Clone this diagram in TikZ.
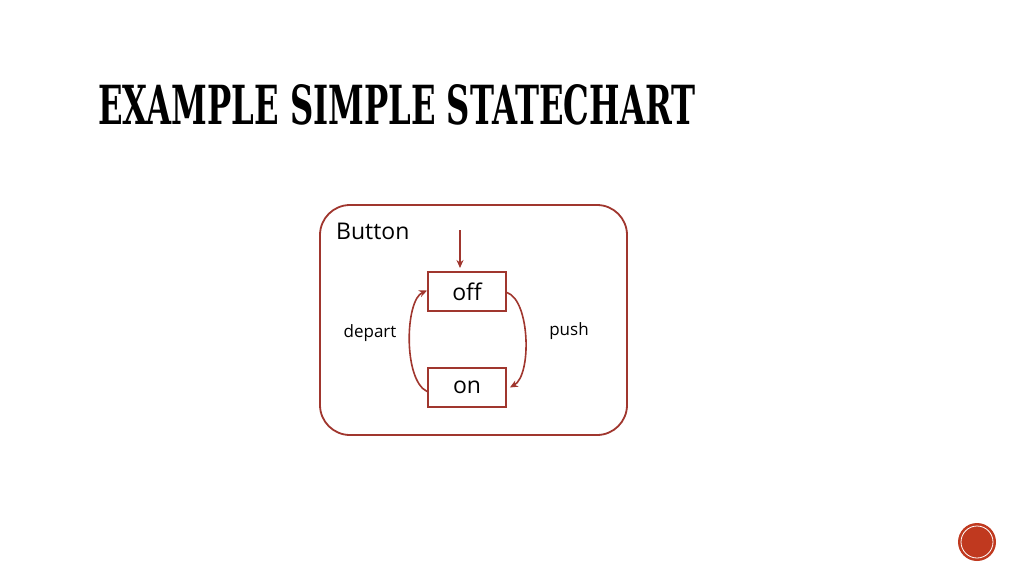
\documentclass[tikz,border=0pt]{standalone}
\usepackage{fontspec}
\setmainfont{Open Sans}
\newfontfamily\titlefont{DejaVu Serif Condensed}
\usetikzlibrary{arrows.meta}
\definecolor{dred}{HTML}{A0362E}
\definecolor{badge}{HTML}{C0391F}
\tikzset{
  statebox/.style={draw=dred, line width=1.8pt, minimum width=78pt, minimum height=39pt, inner sep=0pt, font=\fontsize{23}{26}\selectfont},
  trans/.style={draw=dred, line width=1.6pt, -{Stealth[length=8pt,width=7pt]}},
  lbl/.style={font=\fontsize{17}{20}\selectfont, inner sep=0pt},
}
\begin{document}
\begin{tikzpicture}[x=1pt,y=-1pt]
\useasboundingbox[fill=white] (0,0) rectangle (1024,576);
% title
\node[anchor=west, inner sep=0pt] (title) at (98,105)
  {\resizebox{597pt}{40pt}{\titlefont\bfseries EXAMPLE SIMPLE STATECHART}};
% container
\draw[dred, line width=1.8pt, rounded corners=30pt] (320,205) rectangle (627,435);
\node[anchor=west, font=\fontsize{23}{26}\selectfont, inner sep=0pt] (btn) at (336,231) {Button};
% states
\node[statebox] (off) at (467,291.5) {off};
\node[statebox] (on) at (467,387.5) {on};
\coordinate (init) at (460,230);
\draw[trans] (init) -- (460,268);
% transitions
\draw[trans] (off.east) ++(0,1) .. controls (530,300) and (532,375) .. ([xshift=3pt]on.east);
\draw[trans] ([yshift=-4pt]on.west) .. controls (403,380) and (405,300) .. ([yshift=1pt]off.west);
\node[lbl] (depart) at (370,333) {depart};
\node[lbl] (push) at (569,331) {push};
% badge
\node[circle, fill=badge, minimum size=38pt, inner sep=0pt] (badgec) at (977,542) {};
\draw[white, line width=0.8pt] (badgec.center) circle (16pt);
\end{tikzpicture}
\end{document}
